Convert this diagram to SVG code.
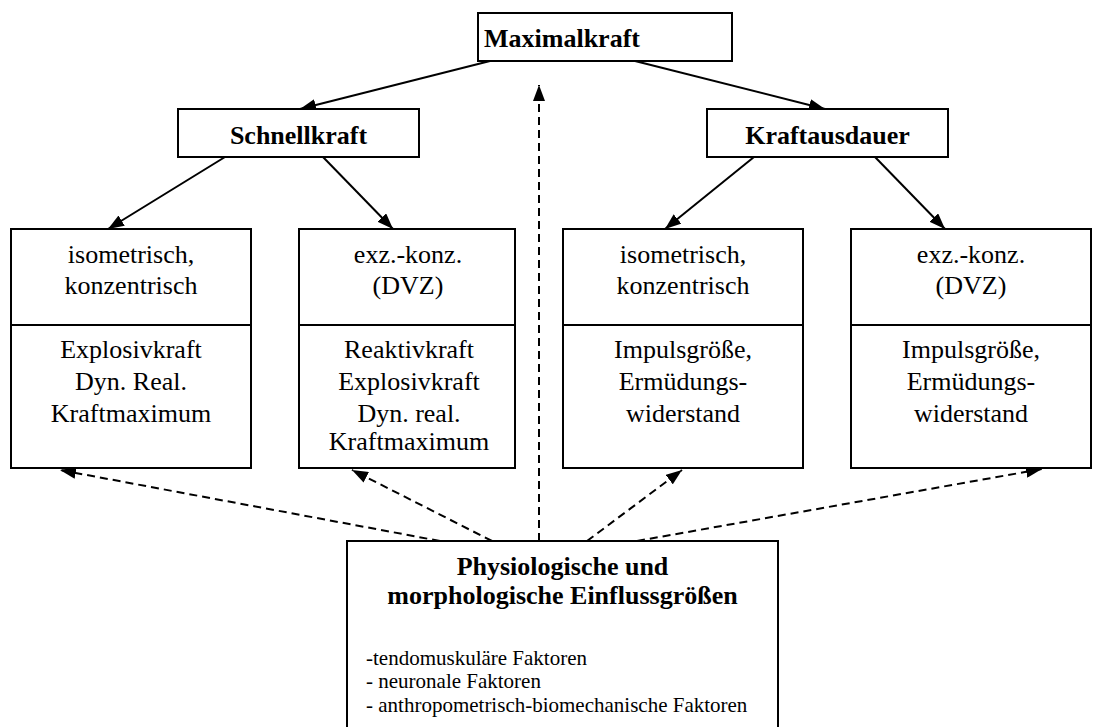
<svg xmlns="http://www.w3.org/2000/svg" width="1094" height="727" viewBox="0 0 1094 727">
<defs>
<marker id="ah" markerWidth="16" markerHeight="12" refX="16" refY="6" orient="auto" markerUnits="userSpaceOnUse">
<path d="M0,0 L16,6 L0,12 Z" fill="#000"/>
</marker>
<style>
.box{fill:#fff;stroke:#000;stroke-width:2}
.div{stroke:#000;stroke-width:2}
.t{font-family:"Liberation Serif","Times New Roman","DejaVu Serif",serif;font-size:26px;fill:#000;text-anchor:middle}
.b{font-weight:bold}
.s{font-family:"Liberation Serif","Times New Roman","DejaVu Serif",serif;font-size:21px;fill:#000}
.c{fill:none;stroke:#000;stroke-width:2;marker-end:url(#ah)}
.d{stroke-dasharray:8 5}
</style>
</defs>
<rect width="1094" height="727" fill="#fff"/>
<g id="connectors">
<line class="c" x1="490" y1="61" x2="300" y2="109"/>
<line class="c" x1="635" y1="61" x2="825" y2="109"/>
<line class="c" x1="225" y1="157" x2="108" y2="229"/>
<line class="c" x1="323" y1="157" x2="393" y2="229"/>
<line class="c" x1="754" y1="157" x2="665" y2="229"/>
<line class="c" x1="875" y1="157" x2="945" y2="229"/>
<line class="c d" x1="539" y1="541" x2="539" y2="85"/>
<line class="c d" x1="440" y1="541" x2="60" y2="470"/>
<line class="c d" x1="492" y1="541" x2="352" y2="470"/>
<line class="c d" x1="587" y1="541" x2="682" y2="470"/>
<line class="c d" x1="637" y1="541" x2="1042" y2="469"/>
</g>
<g id="maximalkraft">
<rect class="box" x="478" y="13" width="254" height="48"/>
<text class="t b" x="484" y="47" style="text-anchor:start">Maximalkraft</text>
</g>
<g id="schnellkraft">
<rect class="box" x="178" y="109" width="241" height="48"/>
<text class="t b" x="298.5" y="144">Schnellkraft</text>
</g>
<g id="kraftausdauer">
<rect class="box" x="707" y="109" width="241" height="48"/>
<text class="t b" x="827.5" y="144">Kraftausdauer</text>
</g>
<g id="box1">
<rect class="box" x="11" y="229" width="240" height="239"/>
<line class="div" x1="11" y1="325" x2="251" y2="325"/>
<text class="t" x="131" y="263">isometrisch,</text>
<text class="t" x="131" y="294">konzentrisch</text>
<text class="t" x="131" y="358">Explosivkraft</text>
<text class="t" x="131" y="390">Dyn. Real.</text>
<text class="t" x="131" y="422">Kraftmaximum</text>
</g>
<g id="box2">
<rect class="box" x="299" y="229" width="216" height="239"/>
<line class="div" x1="299" y1="325" x2="515" y2="325"/>
<text class="t" x="408" y="263">exz.-konz.</text>
<text class="t" x="408" y="294">(DVZ)</text>
<text class="t" x="409" y="358">Reaktivkraft</text>
<text class="t" x="409" y="390">Explosivkraft</text>
<text class="t" x="409" y="422">Dyn. real.</text>
<text class="t" x="409" y="450">Kraftmaximum</text>
</g>
<g id="box3">
<rect class="box" x="563" y="229" width="240" height="239"/>
<line class="div" x1="563" y1="325" x2="803" y2="325"/>
<text class="t" x="683" y="263">isometrisch,</text>
<text class="t" x="683" y="294">konzentrisch</text>
<text class="t" x="683" y="358">Impulsgröße,</text>
<text class="t" x="683" y="390">Ermüdungs-</text>
<text class="t" x="683" y="422">widerstand</text>
</g>
<g id="box4">
<rect class="box" x="851" y="229" width="240" height="239"/>
<line class="div" x1="851" y1="325" x2="1091" y2="325"/>
<text class="t" x="971" y="263">exz.-konz.</text>
<text class="t" x="971" y="294">(DVZ)</text>
<text class="t" x="971" y="358">Impulsgröße,</text>
<text class="t" x="971" y="390">Ermüdungs-</text>
<text class="t" x="971" y="422">widerstand</text>
</g>
<g id="einfluss">
<rect class="box" x="347" y="541" width="431" height="200"/>
<text class="t b" x="562.5" y="575">Physiologische und</text>
<text class="t b" x="562.5" y="604">morphologische Einflussgrößen</text>
<text class="s" x="366" y="665">-tendomuskuläre Faktoren</text>
<text class="s" x="366" y="688">- neuronale Faktoren</text>
<text class="s" x="366" y="712">- anthropometrisch-biomechanische Faktoren</text>
</g>
</svg>
